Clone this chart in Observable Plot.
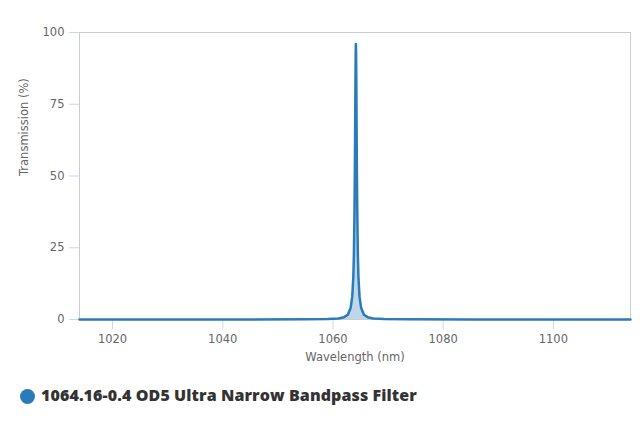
<!DOCTYPE html>
<html>
<head>
<meta charset="utf-8">
<script src="https://cdn.jsdelivr.net/npm/d3@7"></script>
<script src="https://cdn.jsdelivr.net/npm/@observablehq/plot@0.6"></script>
<style>
  html, body { margin: 0; padding: 0; background: #fff; }
  #chart svg { display: block; font-family: "DejaVu Sans", sans-serif; }
  #legend { position: relative; height: 57px; font-family: "Open Sans", sans-serif; }
  #legend .dot { position: absolute; left: 20px; top: 19px; width: 15px; height: 15px; border-radius: 50%; background: #2b7bb9; }
  #legend .lab { position: absolute; left: 41px; top: 14px; font-size: 16px; font-weight: 800; color: #333; white-space: nowrap; letter-spacing: 0.1px; }
</style>
</head>
<body>
<div id="chart"></div>
<div id="legend"><span class="dot"></span><span class="lab">1064.16-0.4 OD5 Ultra Narrow Bandpass Filter</span></div>
<script>
const seriesName = "1064.16-0.4 OD5 Ultra Narrow Bandpass Filter";
const wavelength = [1014, 1030, 1045, 1055, 1059, 1061, 1062, 1062.7, 1063.2, 1063.5, 1063.7, 1063.8, 1063.9, 1063.96, 1064.01, 1064.06, 1064.1, 1064.13, 1064.16, 1064.19, 1064.22, 1064.26, 1064.31, 1064.36, 1064.42, 1064.52, 1064.62, 1064.82, 1065.12, 1065.62, 1066.3, 1067.3, 1069.3, 1073.3, 1085, 1100, 1114];
const transmission = [0, 0, 0.01, 0.05, 0.14, 0.38, 0.81, 1.65, 3.98, 7.97, 15.0, 22.6, 36.4, 48, 61.4, 76.8, 88, 93.9, 96, 93.9, 88, 76.8, 61.4, 48, 36.4, 22.6, 15.0, 7.97, 3.98, 1.65, 0.81, 0.38, 0.14, 0.05, 0.01, 0, 0];
const xTicks = [1020, 1040, 1060, 1080, 1100];
const yTicks = [0, 25, 50, 75, 100];

const data = wavelength.map((w, i) => ({w, t: transmission[i]}));
const lineColor = "#2b7bb9";
const font = "DejaVu Sans, sans-serif";

const chart = Plot.plot({
  width: 640,
  height: 370,
  marginTop: 32,
  marginLeft: 79,
  marginRight: 10,
  marginBottom: 51,
  style: {fontSize: "11.5px", color: "#666", background: "#fff"},
  x: {domain: [1014, 1114]},
  y: {domain: [0, 100]},
  marks: [
    Plot.frame({stroke: "#ccc", strokeWidth: 1}),
    Plot.axisY(yTicks, {tickSize: 10, tickPadding: 5, stroke: "#ccd6eb", fill: "#666", fontFamily: font, fontSize: 11.5, tickFormat: "d", label: null}),
    Plot.axisX(xTicks, {tickSize: 10, tickPadding: 5, stroke: "#ccd6eb", fill: "#666", fontFamily: font, fontSize: 11.5, tickFormat: "d", label: null}),
    Plot.text(["Wavelength (nm)"], {frameAnchor: "bottom", lineAnchor: "bottom", dy: 41, fill: "#666", fontFamily: font, fontSize: 11.5}),
    Plot.text(["Transmission (%)"], {frameAnchor: "left", dx: -55, rotate: -90, fill: "#666", fontFamily: font, fontSize: 11.5}),
    Plot.areaY(data, {x: "w", y: "t", fill: lineColor, fillOpacity: 0.3}),
    Plot.lineY(data, {x: "w", y: "t", stroke: lineColor, strokeWidth: 2.5})
  ]
});
document.getElementById("chart").appendChild(chart);
</script>
</body>
</html>
